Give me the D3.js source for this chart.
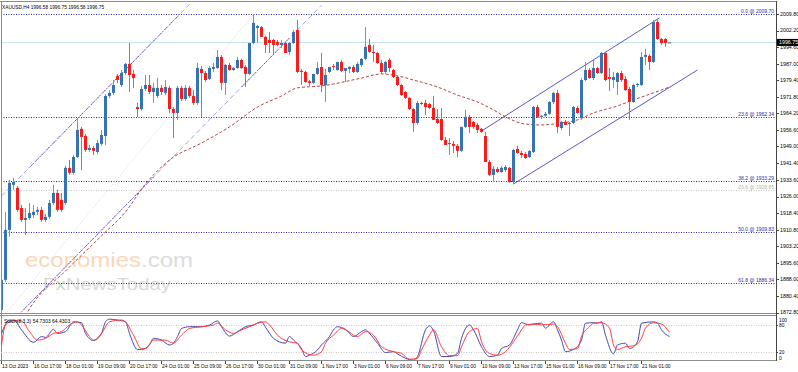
<!DOCTYPE html>
<html><head><meta charset="utf-8">
<script src="https://cdn.jsdelivr.net/npm/d3@7"></script>
<style>body{margin:0;background:#fff}svg{display:block}text{font-family:"Liberation Sans",Arial,sans-serif}</style>
</head><body><svg id="c" width="798" height="372"></svg>
<script>
// ---------- DATA ----------
const opens = [1874.0,1887.8,1910.7,1931.4,1930.0,1920.8,1915.3,1916.2,1917.6,1919.0,1919.9,1915.3,1916.7,1923.1,1927.7,1924.5,1923.1,1939.2,1936.9,1944.2,1957.1,1953.8,1947.4,1948.3,1946.5,1950.2,1953.8,1972.2,1973.6,1981.4,1977.2,1982.7,1986.9,1982.3,1967.1,1966.2,1975.4,1977.2,1974.0,1972.2,1975.9,1973.6,1975.9,1966.2,1964.4,1975.9,1970.8,1975.9,1972.2,1969.0,1984.6,1982.7,1980.0,1984.6,1985.0,1990.1,1978.2,1986.4,1984.1,1985.0,1988.7,1985.5,1982.3,1996.5,2003.4,2003.8,1999.3,1997.9,1997.9,1997.0,1995.6,1996.5,1992.4,1996.5,2002.5,1983.7,1983.2,1979.0,1978.2,1982.3,1985.5,1977.2,1983.2,1985.9,1984.1,1987.8,1983.7,1984.6,1985.5,1983.2,1986.4,1989.2,1995.6,1992.4,1991.9,1987.3,1983.2,1988.7,1984.1,1980.9,1977.2,1974.0,1971.3,1966.2,1959.8,1969.0,1969.0,1968.5,1966.7,1961.6,1961.6,1952.0,1950.2,1950.2,1949.3,1947.0,1958.0,1962.6,1960.3,1958.9,1957.1,1953.8,1941.9,1936.0,1938.7,1937.3,1938.2,1939.2,1932.7,1947.9,1946.0,1945.6,1944.2,1946.5,1967.1,1962.6,1963.1,1964.0,1969.4,1973.6,1957.5,1960.3,1959.3,1959.8,1966.7,1962.1,1979.5,1984.1,1980.4,1985.0,1982.7,1991.9,1980.9,1979.5,1978.6,1982.7,1980.0,1975.4,1969.4,1977.2,1977.2,1990.1,1990.6,1987.8,2006.1,1998.3,1998.3,1996.58];
const highs = [1888.7,1919.0,1933.7,1934.6,1930.9,1922.2,1920.8,1923.1,1922.2,1921.3,1921.3,1918.1,1924.5,1931.4,1929.1,1927.7,1940.1,1942.8,1945.1,1962.1,1958.0,1954.8,1949.7,1949.3,1952.0,1956.6,1973.1,1974.9,1979.5,1982.3,1984.1,1987.3,1996.5,1984.1,1969.0,1976.8,1981.8,1981.8,1978.2,1980.4,1977.2,1979.5,1976.8,1967.1,1976.8,1976.8,1977.2,1976.8,1974.9,1987.3,1985.9,1983.7,1985.9,1987.3,1993.3,1991.0,1986.9,1987.3,1985.5,1990.1,1989.2,1986.4,1996.5,2009.5,2004.8,2004.3,1999.8,2001.5,1998.3,1997.9,1997.9,1997.0,1997.0,2002.5,2007.0,1984.6,1983.7,1979.5,1982.3,1987.8,1991.9,1984.6,1985.5,1986.9,1987.8,1988.7,1985.0,1985.9,1986.4,1987.8,1989.6,2003.8,1998.3,1995.6,1992.4,1988.7,1988.2,1989.6,1984.6,1981.4,1977.7,1974.5,1971.7,1966.7,1969.9,1969.4,1970.4,1969.0,1972.2,1966.2,1966.7,1953.4,1952.9,1951.5,1950.2,1958.0,1965.8,1963.5,1960.7,1959.8,1957.5,1955.7,1942.8,1940.1,1939.6,1940.1,1940.5,1939.6,1947.9,1949.3,1947.0,1946.5,1947.4,1967.6,1968.1,1963.5,1964.8,1969.9,1974.0,1975.0,1960.7,1961.2,1960.3,1967.6,1967.6,1980.4,1987.8,1985.0,1989.2,1985.5,1992.4,1992.4,1985.0,1983.2,1983.2,1983.7,1981.4,1976.3,1977.7,1978.2,1992.4,1993.8,1991.4,2007.0,2007.5,1998.8,1998.8,1996.75];
const lows = [1873.1,1886.9,1907.5,1929.1,1919.0,1914.4,1908.4,1915.3,1916.2,1917.6,1914.4,1914.4,1915.8,1922.2,1919.0,1919.0,1922.2,1936.0,1936.0,1943.7,1938.2,1946.5,1946.5,1945.1,1945.6,1949.3,1949.7,1971.3,1972.6,1978.2,1976.3,1981.8,1974.0,1975.9,1962.6,1965.3,1974.5,1973.1,1969.0,1971.3,1972.6,1972.6,1964.4,1952.9,1961.2,1969.9,1969.9,1971.3,1968.1,1968.1,1962.6,1978.6,1979.5,1983.2,1984.6,1974.9,1972.6,1983.7,1983.7,1984.6,1984.6,1976.3,1981.8,1996.0,1996.5,1999.3,1991.9,1991.9,1991.0,1995.0,1994.2,1991.9,1991.0,1996.0,1982.7,1977.2,1978.2,1976.8,1977.7,1981.8,1974.0,1969.4,1982.7,1984.1,1983.7,1983.2,1978.6,1982.7,1982.7,1982.7,1985.5,1988.7,1991.9,1987.8,1986.9,1982.3,1982.3,1983.2,1980.4,1976.8,1972.2,1970.8,1965.8,1955.7,1958.9,1968.1,1963.5,1966.2,1961.2,1959.3,1951.5,1949.7,1945.1,1946.0,1944.2,1946.5,1957.5,1955.2,1957.1,1955.2,1955.2,1941.9,1935.5,1933.2,1936.9,1936.9,1937.3,1932.3,1931.8,1945.6,1943.7,1943.3,1943.7,1946.0,1962.1,1961.6,1962.6,1963.5,1968.5,1955.2,1956.6,1958.9,1953.8,1959.3,1964.0,1961.2,1979.0,1980.0,1979.5,1982.3,1982.3,1979.0,1974.5,1975.9,1972.6,1978.6,1974.5,1961.2,1969.0,1976.3,1976.8,1986.4,1984.1,1987.3,1997.9,1995.6,1994.7,1996.58];
const closes = [1887.8,1910.7,1932.3,1932.7,1919.9,1915.3,1916.2,1918.5,1919.0,1919.9,1915.3,1916.7,1923.1,1927.7,1919.9,1919.9,1939.2,1936.9,1944.2,1956.6,1953.4,1947.4,1948.3,1947.0,1950.6,1954.3,1972.2,1973.6,1977.2,1979.5,1982.7,1986.9,1981.8,1980.4,1966.2,1975.4,1977.2,1974.0,1975.9,1975.9,1974.0,1976.3,1966.2,1964.4,1975.9,1970.8,1975.9,1972.2,1969.0,1985.0,1982.7,1979.5,1985.0,1985.5,1990.1,1978.2,1986.4,1984.1,1985.0,1988.7,1985.0,1982.3,1996.5,2005.7,2004.3,1999.3,1995.6,1996.5,1995.6,1995.6,1996.5,1991.9,1996.5,2001.5,1983.2,1983.2,1978.6,1978.2,1982.3,1985.0,1977.2,1981.8,1985.5,1985.5,1987.8,1983.7,1985.0,1985.5,1983.2,1986.9,1989.2,1994.7,1992.4,1991.9,1987.3,1983.2,1987.8,1985.0,1980.9,1977.2,1972.6,1971.3,1966.2,1959.8,1969.0,1968.5,1967.1,1966.7,1961.2,1959.8,1952.0,1949.7,1950.6,1949.3,1947.0,1958.0,1962.6,1958.0,1958.0,1956.6,1955.7,1941.9,1936.0,1938.7,1937.3,1939.2,1939.6,1932.7,1947.4,1946.0,1945.1,1943.7,1946.9,1967.1,1962.6,1963.1,1964.0,1969.4,1973.6,1958.0,1960.3,1958.9,1959.8,1967.1,1964.4,1979.5,1984.1,1980.4,1985.0,1982.7,1991.9,1979.5,1980.0,1980.9,1982.7,1979.5,1974.9,1969.4,1977.2,1977.7,1990.1,1991.0,1987.8,2006.1,1998.3,1996.5,1996.5,1996.75];

// moving average (read at selected bars)
const maBars = [6,7,16,25,31,36,42,50,57,64,70,74,80,90,95,99,103,109,114,119,123,126,131,135,140,144,148,154,158,163,167];
const maVals = [1871.3,1874.5,1891.9,1908.0,1919.0,1931.8,1942.8,1950.6,1958.0,1967.1,1972.2,1975.9,1976.8,1980.4,1982.3,1981.4,1979.5,1976.3,1972.6,1969.4,1965.8,1962.6,1959.3,1958.9,1959.8,1961.2,1964.4,1967.6,1970.4,1973.6,1976.3];

// stochastic (8,3,3)
const kBars = [0,2,3,5,8,10,11,13,14,16,18,20,21,23,25,26,27,29,31,32,34,35,37,38,40,42,43,44,45,47,50,52,54,55,57,59,61,63,65,66,68,71,72,73,75,76,77,79,80,82,83,84,86,88,90,91,92,94,96,98,99,101,103,104,106,107,108,110,112,114,115,117,118,120,122,124,125,127,129,130,132,133,135,136,138,139,140,141,143,145,146,148,149,150,151,153,154,156,157,159,160,163,164,165,167];
const kVals = [62,92,92,70,42,55,53,71,62,66,88,86,62,46,62,88,94,92,88,62,26,26,36,51,47,36,40,55,73,77,77,81,90,77,56,66,77,81,88,76,51,40,55,47,28,10,13,25,36,55,70,77,71,55,66,70,62,40,19,21,16,6,2,10,70,79,68,10,10,17,51,81,70,32,10,13,28,36,70,86,81,83,85,74,88,70,47,21,26,47,85,86,85,88,58,16,36,40,28,43,85,88,85,70,54.73];
const dBars = [0,1,3,5,7,9,11,13,15,17,19,20,22,23,25,27,30,31,33,35,36,38,41,43,45,47,50,53,54,56,58,60,62,64,66,67,69,72,74,75,78,80,81,83,85,86,89,91,93,95,98,100,102,104,105,107,108,110,112,114,115,117,119,120,122,124,126,128,130,131,133,135,138,139,141,142,144,145,147,148,150,152,153,154,156,158,160,161,163,165,167];
const dVals = [36,81,90,90,66,47,51,62,66,81,88,81,55,47,62,88,92,88,58,28,28,47,47,40,58,73,77,81,85,70,62,70,77,85,88,81,58,43,40,25,13,21,40,58,73,70,55,66,58,32,21,17,4,6,25,58,70,32,12,12,32,66,73,43,17,13,21,43,70,81,83,81,83,77,40,26,28,55,77,85,86,74,36,26,32,34,51,74,86,83,64.43];

// fibonacci levels
const fibPrices = [2009.70,1962.34,1933.29,1909.83,1886.34];
const fibLabels = ["0.0 @ 2009.70","23.6 @ 1962.34","38.2 @ 1933.29","50.0 @ 1909.83","61.8 @ 1886.34"];
const fib2Prices = [1928.85];
const fib2Labels = ["23.6 @ 1928.85"];

// trend lines [bar, price]
const chanA = [[0,1926.3],[48,2016.1]];
const chanADark = [[7,1939.4],[44,2008.6]];
const chanB = [[4,1871.2],[80,2013.8]];
const chanBDark1 = [[5,1873.1],[38,1935.0]];
const chanBDark2 = [[60,1976.3],[72,1998.8]];
const fibTrend = [[0,1869.9],[63,2009.7]];
const chan2Upper = [[120,1956.1],[164.5,2008.0]];
const chan2Lower = [[128,1931.8],[174,1984.1]];

const priceTicks = [2009.80,2002.20,1994.60,1987.00,1979.40,1971.80,1964.20,1956.60,1949.00,1941.40,1933.60,1926.00,1918.40,1910.80,1903.20,1895.60,1888.00,1880.40,1872.80];
const timeBars = [0,8,16,24,32,40,48,56,64,72,80,88,96,104,112,120,128,136,144,152,160];
const timeLabels = ["13 Oct 2023","16 Oct 17:00","18 Oct 01:00","19 Oct 09:00","20 Oct 17:00","24 Oct 01:00","25 Oct 09:00","26 Oct 17:00","30 Oct 01:00","31 Oct 09:00","1 Nov 17:00","3 Nov 01:00","6 Nov 09:00","7 Nov 17:00","9 Nov 01:00","10 Nov 09:00","13 Nov 17:00","15 Nov 01:00","16 Nov 09:00","17 Nov 17:00","21 Nov 01:00"];
const stochLevels = [80,20];
const stochLabelVals = [100,80,20,0];
const currentPrice = 1996.75;
const headerText = "XAUUSD,H4  1996.58 1996.75 1996.58 1996.75";
const stochText = "Stoch(8,3,3) 54.7303 64.4303";

// ---------- DRAW ----------
const svg = d3.select("#c");
const axisX = 776, mainTop = 2, mainBot = 313, stTop = 315.5, stBot = 360;
const x = d3.scaleLinear().domain([0,167]).range([1.5,669.5]);
const y = d3.scaleLinear().domain([1872.6,2015.3]).range([mainBot,mainTop]);
const ys = d3.scaleLinear().domain([0,100]).range([361,316.5]);

const defs = svg.append("defs");
defs.append("clipPath").attr("id","cm").append("rect").attr("x",1).attr("y",mainTop).attr("width",axisX-1).attr("height",mainBot-mainTop);
defs.append("clipPath").attr("id","cs").append("rect").attr("x",1).attr("y",stTop).attr("width",axisX-1).attr("height",stBot-stTop);

const gm = svg.append("g").attr("clip-path","url(#cm)");

// watermark
const wm = gm.append("text").attr("x",25).attr("y",267).attr("font-size",21).attr("textLength",168).attr("lengthAdjust","spacingAndGlyphs").attr("font-family","'Open Sans','Liberation Sans',sans-serif");
wm.append("tspan").attr("fill","#fbd6b8").text("economies");
wm.append("tspan").attr("fill","#dcdcdc").text(".com");
const wm2 = gm.append("text").attr("x",43).attr("y",289.5).attr("font-size",17).attr("textLength",128).attr("lengthAdjust","spacingAndGlyphs").attr("font-family","'Open Sans','Liberation Sans',sans-serif");
wm2.append("tspan").attr("fill","#d8d8d8").text("F");
wm2.append("tspan").attr("fill","#bfe0bf").text("x");
wm2.append("tspan").attr("fill","#d8d8d8").text("NewsToday");

// fib horizontal lines
gm.selectAll(".fib").data(fibPrices).join("line")
  .attr("x1",1).attr("x2",axisX).attr("y1",d=>Math.round(y(d))+0.5).attr("y2",d=>Math.round(y(d))+0.5)
  .attr("stroke","#2a2aa6").attr("stroke-dasharray","1,1.5").attr("stroke-width",1);
gm.selectAll(".fib2").data(fib2Prices).join("line")
  .attr("x1",1).attr("x2",axisX).attr("y1",d=>Math.round(y(d))+0.5).attr("y2",d=>Math.round(y(d))+0.5)
  .attr("stroke","#c4c4c4").attr("stroke-dasharray","1,1.5").attr("stroke-width",1);
// current price line
gm.append("line").attr("x1",1).attr("x2",axisX).attr("y1",Math.round(y(currentPrice))+0.5).attr("y2",Math.round(y(currentPrice))+0.5)
  .attr("stroke","#c9e6ee").attr("stroke-width",1);

const seg = d3.line().x(d=>x(d[0])).y(d=>y(d[1]));
function tl(data,color,dash,w){gm.append("path").attr("d",seg(data)).attr("fill","none").attr("stroke",color).attr("stroke-width",w||1).attr("stroke-dasharray",dash);}
tl(fibTrend,"#d4d4ea","1,2");
tl(chanA,"#a9a4e0","5,3");
tl(chanB,"#a9a4e0","5,3");
tl(chanADark,"#3a36b0","1,1.5");
tl(chanBDark1,"#3a36b0","1,1.5");
tl(chanBDark2,"#3a36b0","1,1.5");
tl(chan2Upper,"#5b57c4",null);
tl(chan2Lower,"#5b57c4",null);

// moving average
const maLine = d3.line().x((d,i)=>x(maBars[i])).y(d=>y(d)).curve(d3.curveMonotoneX);
gm.append("path").attr("d",maLine(maVals)).attr("fill","none").attr("stroke","#b04848").attr("stroke-width",1).attr("stroke-dasharray","3,2");

// candles
const idx = d3.range(opens.length);
const cg = gm.append("g");
cg.selectAll(".w").data(idx).join("line")
  .attr("x1",i=>x(i)).attr("x2",i=>x(i)).attr("y1",i=>y(highs[i])).attr("y2",i=>y(lows[i]))
  .attr("stroke",i=>closes[i]>=opens[i]?"#6a9acb":"#ff5050").attr("stroke-width",1);
cg.selectAll(".b").data(idx).join("rect")
  .attr("x",i=>x(i)-1.5).attr("width",3)
  .attr("y",i=>Math.min(y(opens[i]),y(closes[i])))
  .attr("height",i=>Math.max(1,Math.abs(y(opens[i])-y(closes[i]))))
  .attr("fill",i=>closes[i]>=opens[i]?"#3474b4":"#ff1a1a");

// fib labels
svg.selectAll(".fl").data(fibPrices).join("text")
  .attr("x",axisX-2).attr("y",d=>y(d)-1).attr("text-anchor","end").attr("font-size",5).attr("fill","#2a2aa6")
  .text((d,i)=>fibLabels[i]);
svg.selectAll(".fl2").data(fib2Prices).join("text")
  .attr("x",axisX-2).attr("y",d=>y(d)-1).attr("text-anchor","end").attr("font-size",5).attr("fill","#b4b4b4")
  .text((d,i)=>fib2Labels[i]);

// header
svg.append("text").attr("x",2).attr("y",8.5).attr("font-size",4.8).attr("fill","#000").text(headerText);

// frames
const fr = svg.append("g").attr("stroke","#8c8c8c").attr("fill","none");
fr.append("line").attr("x1",0).attr("x2",axisX).attr("y1",1.5).attr("y2",1.5);
fr.append("line").attr("x1",1.5).attr("x2",1.5).attr("y1",1).attr("y2",stBot);
fr.append("line").attr("x1",0).attr("x2",axisX).attr("y1",313.5).attr("y2",313.5);
fr.append("line").attr("x1",0).attr("x2",axisX).attr("y1",315.5).attr("y2",315.5);
fr.append("line").attr("x1",0).attr("x2",axisX).attr("y1",stBot+0.5).attr("y2",stBot+0.5);
svg.append("line").attr("x1",axisX+0.5).attr("x2",axisX+0.5).attr("y1",1).attr("y2",stBot+1).attr("stroke","#444");

// price axis
const pa = svg.append("g");
pa.selectAll("line").data(priceTicks).join("line")
  .attr("x1",axisX).attr("x2",axisX+3).attr("y1",d=>Math.round(y(d))+0.5).attr("y2",d=>Math.round(y(d))+0.5).attr("stroke","#444");
pa.selectAll("text").data(priceTicks).join("text")
  .attr("x",axisX+4).attr("y",d=>y(d)).attr("dy","0.35em").attr("font-size",5.3).attr("fill","#000")
  .text(d=>d3.format(".2f")(d));
// current price tag
const cy = y(currentPrice);
svg.append("rect").attr("x",axisX+1).attr("y",cy-3.5).attr("width",21).attr("height",7).attr("fill","#000");
svg.append("text").attr("x",axisX+3).attr("y",cy).attr("dy","0.35em").attr("font-size",5.3).attr("fill","#fff").text(d3.format(".2f")(currentPrice));

// stochastic panel
const gs = svg.append("g").attr("clip-path","url(#cs)");
gs.selectAll(".lv").data(stochLevels).join("line")
  .attr("x1",1).attr("x2",axisX).attr("y1",d=>Math.round(ys(d))+0.5).attr("y2",d=>Math.round(ys(d))+0.5)
  .attr("stroke","#c8c8c8").attr("stroke-dasharray","1,1.5");
const kLine = d3.line().x((d,i)=>x(kBars[i])).y(d=>ys(d)).curve(d3.curveMonotoneX);
const dLine = d3.line().x((d,i)=>x(dBars[i])).y(d=>ys(d)).curve(d3.curveMonotoneX);
gs.append("path").attr("d",kLine(kVals)).attr("fill","none").attr("stroke","#4646b0").attr("stroke-width",1);
gs.append("path").attr("d",dLine(dVals)).attr("fill","none").attr("stroke","#ff3a3a").attr("stroke-width",1);
svg.append("text").attr("x",4).attr("y",322.5).attr("font-size",5).attr("fill","#000").text(stochText);
svg.selectAll(".sl").data(stochLabelVals).join("text")
  .attr("x",axisX+3).attr("y",d=>d===100?ys(d)+3.5:(d===0?ys(d)-3:ys(d)))
  .attr("dy","0.35em").attr("font-size",4.8).attr("fill","#000").text(d=>d);
svg.selectAll(".st").data([80,20]).join("line")
  .attr("x1",axisX).attr("x2",axisX+2).attr("y1",d=>Math.round(ys(d))+0.5).attr("y2",d=>Math.round(ys(d))+0.5).attr("stroke","#444");

// time axis
svg.selectAll(".tt").data(timeBars).join("line")
  .attr("x1",d=>x(d)).attr("x2",d=>x(d)).attr("y1",stBot+1).attr("y2",stBot+4).attr("stroke","#444");
svg.selectAll(".tx").data(timeBars).join("text")
  .attr("x",d=>x(d)+0.5).attr("y",367.5).attr("font-size",4.8).attr("fill","#000")
  .text((d,i)=>timeLabels[i]);
</script></body></html>
